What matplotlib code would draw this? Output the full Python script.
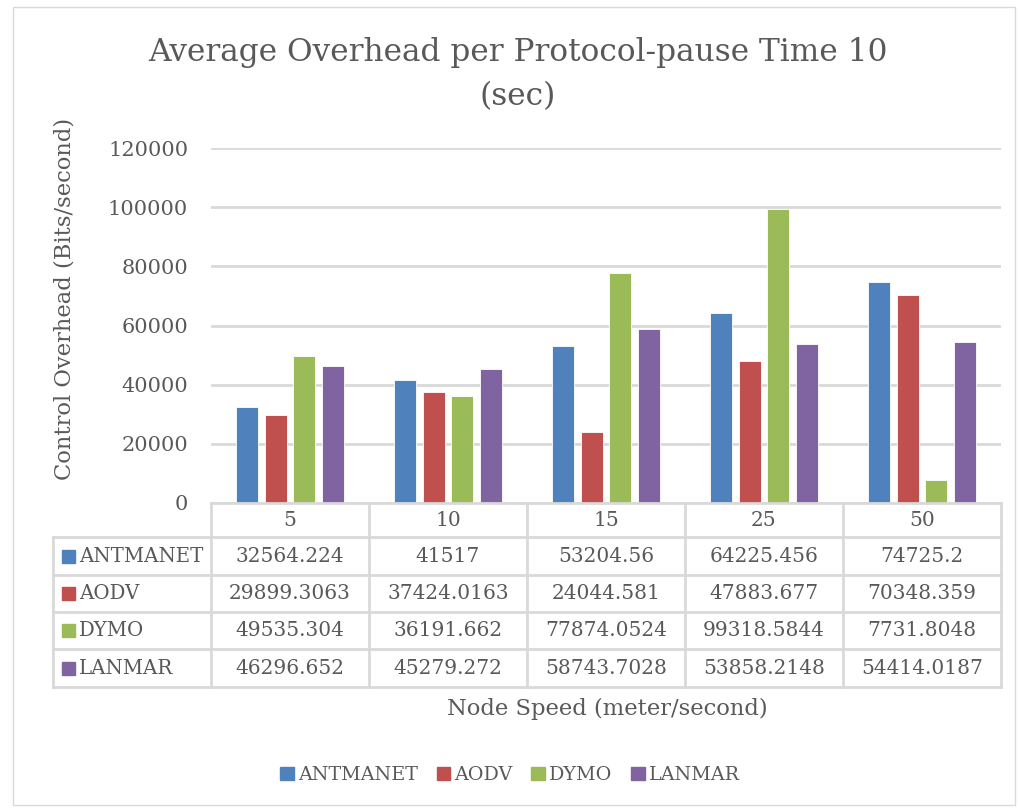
import numpy as np
import matplotlib
matplotlib.use("Agg")
import matplotlib.pyplot as plt
from matplotlib.lines import Line2D
from matplotlib.patches import Rectangle

speeds = ["5", "10", "15", "25", "50"]
protocols = ["ANTMANET", "AODV", "DYMO", "LANMAR"]
antmanet = [32564.224, 41517, 53204.56, 64225.456, 74725.2]
aodv = [29899.3063, 37424.0163, 24044.581, 47883.677, 70348.359]
dymo = [49535.304, 36191.662, 77874.0524, 99318.5844, 7731.8048]
lanmar = [46296.652, 45279.272, 58743.7028, 53858.2148, 54414.0187]
yticks = [0, 20000, 40000, 60000, 80000, 100000, 120000]

colors = ["#4F81BD", "#C0504D", "#9BBB59", "#8064A2"]
text_c = "#595959"
line_c = "#D9D9D9"

plt.rcParams['font.family'] = ['DejaVu Serif']

W, H = 1020, 810
fig = plt.figure(figsize=(W / 100, H / 100), dpi=100)

# pixel helpers (origin top-left)
def fx(px):
    return px / W

def fy(py):
    return 1 - py / H

# outer chart border
fig.add_artist(Rectangle((fx(13), fy(805)), fx(1015) - fx(13), fy(7) - fy(805),
                         transform=fig.transFigure, fill=False, ec="#D9D9D9", lw=1))

left, right, top, bottom = 211, 1001, 148, 503
ax = fig.add_axes([fx(left), fy(bottom), fx(right) - fx(left), fy(top) - fy(bottom)])

series = [antmanet, aodv, dymo, lanmar]
x = np.arange(len(speeds))
width = 0.14
step = 0.181
for i, vals in enumerate(series):
    ax.bar(x + (i - 1.5) * step, vals, width, color=colors[i],
           edgecolor="white", linewidth=0.6, zorder=3)

ax.set_xlim(-0.5, len(speeds) - 0.5)
ax.set_ylim(0, 120000)
ax.set_yticks(yticks)
ax.set_yticklabels([str(t) for t in yticks])
ax.set_xticks([])
ax.tick_params(axis="y", length=0, pad=16.5, labelsize=15, labelcolor=text_c)
ax.grid(axis="y", color=line_c, lw=2, zorder=0)
for s in ax.spines.values():
    s.set_visible(False)

# data table below the axes
row_y = [503, 537, 575, 612, 649, 687]
col_x = [211, 369, 527, 685, 843, 1001]
tab_left = 53

def hline(x0, x1, y):
    fig.add_artist(Line2D([fx(x0), fx(x1)], [fy(y), fy(y)], transform=fig.transFigure,
                          color=line_c, lw=2))

def vline(xp, y0, y1):
    fig.add_artist(Line2D([fx(xp), fx(xp)], [fy(y0), fy(y1)], transform=fig.transFigure,
                          color=line_c, lw=2))

hline(col_x[0], col_x[-1], row_y[0])
for yy in row_y[1:]:
    hline(tab_left, col_x[-1], yy)
vline(tab_left, row_y[1], row_y[-1])
for xx in col_x:
    vline(xx, row_y[0], row_y[-1])

def fmt(v):
    return f"{v:.4f}".rstrip("0").rstrip(".")

for j, sp in enumerate(speeds):
    cx = (col_x[j] + col_x[j + 1]) / 2
    fig.text(fx(cx), fy((row_y[0] + row_y[1]) / 2), sp, ha="center", va="center",
             fontsize=14.5, color=text_c)
for i, name in enumerate(protocols):
    cy = (row_y[i + 1] + row_y[i + 2]) / 2
    fig.add_artist(Rectangle((fx(62), fy(cy + 6.5)), fx(13), 13 / H,
                             transform=fig.transFigure, color=colors[i]))
    fig.text(fx(79), fy(cy), name, ha="left", va="center", fontsize=14.2, color=text_c)
    for j, v in enumerate(series[i]):
        cx = (col_x[j] + col_x[j + 1]) / 2
        fig.text(fx(cx), fy(cy), fmt(v), ha="center", va="center",
                 fontsize=14.5, color=text_c)

# titles and axis labels
fig.text(fx(518), fy(52), "Average Overhead per Protocol-pause Time 10",
         ha="center", va="center", fontsize=22.5, color=text_c)
fig.text(fx(518), fy(97), "(sec)",
         ha="center", va="center", fontsize=22.5, color=text_c)
fig.text(fx(65), fy(299), "Control Overhead (Bits/second)", rotation=90,
         ha="center", va="center", fontsize=16.3, color=text_c)
fig.text(fx(607), fy(709), "Node Speed (meter/second)", ha="center", va="center",
         fontsize=16.3, color=text_c)

# legend along the bottom
handles = [Rectangle((0, 0), 1, 1, color=c) for c in colors]
fig.legend(handles, protocols, loc="center", bbox_to_anchor=(fx(510), fy(775)),
           ncol=4, frameon=False, fontsize=13.8, labelcolor=text_c,
           handlelength=0.7, handleheight=0.7, handletextpad=0.2, columnspacing=1.0)

fig.savefig("out.png", dpi=100)
